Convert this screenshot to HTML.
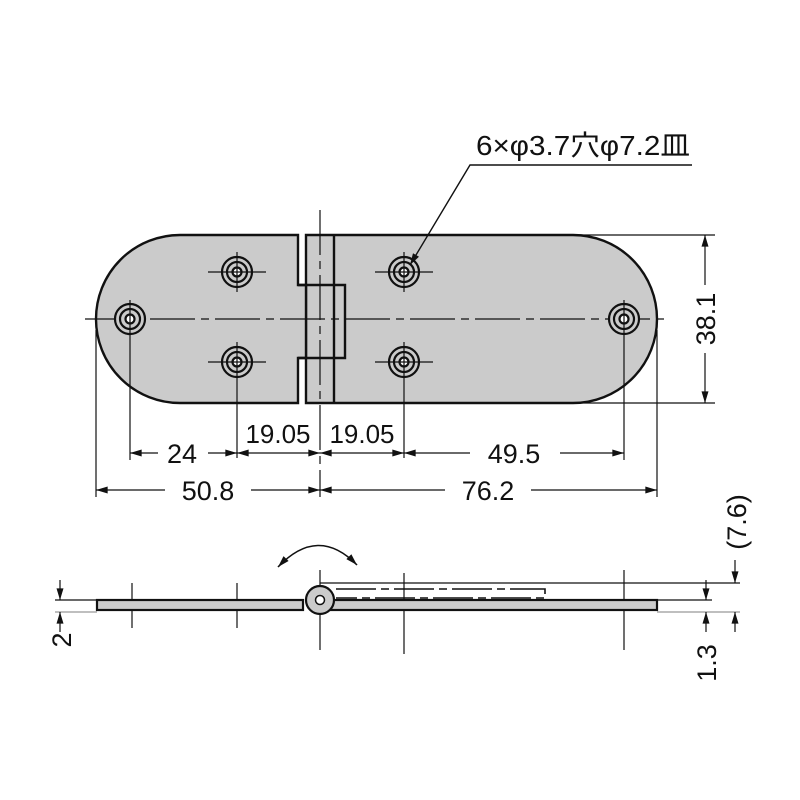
<!DOCTYPE html>
<html><head><meta charset="utf-8"><style>html,body{margin:0;padding:0;background:#fff}svg{display:block}text{font-family:"Liberation Sans","Noto Sans CJK JP",sans-serif;fill:#111}</style></head><body>
<svg width="800" height="800" viewBox="0 0 800 800" xmlns="http://www.w3.org/2000/svg">
<defs>
<marker id="a" viewBox="0 0 10 6" refX="10" refY="3" markerWidth="14" markerHeight="7" markerUnits="userSpaceOnUse" orient="auto-start-reverse"><path d="M0,0L10,3L0,6z" fill="#111"/></marker>
</defs>
<!-- plates -->
<g stroke="#111" stroke-width="2.4" fill="#cbcbcb">
<path d="M306,235 H573 A84,84 0 0 1 573,403 H306 Z"/>
<path d="M298,235 H180 A84,84 0 0 0 180,403 H298 V358 H306 V285 H298 Z"/>
<path d="M298,285 H345 V358 H298" fill="none"/>
<line x1="334" y1="235" x2="334" y2="403"/>
</g>
<!-- center lines -->
<g stroke="#111" stroke-width="1.2">
<line x1="85" y1="319" x2="670" y2="319" stroke-dasharray="45,6,8,6"/>
<line x1="320" y1="210" x2="320" y2="497" stroke-dasharray="45,6,8,6"/>
</g>
<!-- holes -->
<g stroke="#111" stroke-width="2.2" fill="#cbcbcb">
<g transform="translate(130,319)"><circle r="15"/><circle r="10"/><circle r="4.5" fill="#fff"/></g>
<g transform="translate(237,272)"><circle r="15"/><circle r="10"/><circle r="4.5" fill="#fff"/></g>
<g transform="translate(237,362)"><circle r="15"/><circle r="10"/><circle r="4.5" fill="#fff"/></g>
<g transform="translate(404,272)"><circle r="15"/><circle r="10"/><circle r="4.5" fill="#fff"/></g>
<g transform="translate(404,362)"><circle r="15"/><circle r="10"/><circle r="4.5" fill="#fff"/></g>
<g transform="translate(624,319)"><circle r="15"/><circle r="10"/><circle r="4.5" fill="#fff"/></g>
</g>
<g stroke="#111" stroke-width="1.2">
<line x1="208" y1="272" x2="266" y2="272"/><line x1="237" y1="252" x2="237" y2="292"/>
<line x1="208" y1="362" x2="266" y2="362"/><line x1="237" y1="342" x2="237" y2="458"/>
<line x1="375" y1="272" x2="433" y2="272"/><line x1="404" y1="252" x2="404" y2="292"/>
<line x1="375" y1="362" x2="433" y2="362"/><line x1="404" y1="342" x2="404" y2="458"/>
<line x1="130" y1="300" x2="130" y2="460"/><line x1="624" y1="300" x2="624" y2="460"/>
<line x1="96" y1="330" x2="96" y2="497"/><line x1="657" y1="330" x2="657" y2="497"/>
<!-- dims -->
<line x1="130" y1="453" x2="237" y2="453" marker-start="url(#a)" marker-end="url(#a)"/>
<line x1="237" y1="453" x2="320" y2="453" marker-start="url(#a)" marker-end="url(#a)"/>
<line x1="320" y1="453" x2="404" y2="453" marker-start="url(#a)" marker-end="url(#a)"/>
<line x1="404" y1="453" x2="624" y2="453" marker-start="url(#a)" marker-end="url(#a)"/>
<line x1="96" y1="490" x2="320" y2="490" marker-start="url(#a)" marker-end="url(#a)"/>
<line x1="320" y1="490" x2="657" y2="490" marker-start="url(#a)" marker-end="url(#a)"/>
<line x1="573" y1="235" x2="715" y2="235"/><line x1="573" y1="403" x2="715" y2="403"/>
<line x1="705" y1="235" x2="705" y2="403" marker-start="url(#a)" marker-end="url(#a)"/>
<!-- leader -->
<polyline points="692,165 470,165 410,265" fill="none" stroke-width="1.4" marker-end="url(#a)"/>
</g>
<g font-size="27">
<rect x="158" y="438" width="50" height="30" fill="#fff"/><text x="182" y="463" text-anchor="middle">24</text>
<text x="278" y="443" text-anchor="middle" font-size="26">19.05</text>
<text x="362" y="443" text-anchor="middle" font-size="26">19.05</text>
<rect x="470" y="438" width="90" height="30" fill="#fff"/><text x="514" y="463" text-anchor="middle">49.5</text>
<rect x="165" y="475" width="86" height="30" fill="#fff"/><text x="208" y="500" text-anchor="middle">50.8</text>
<rect x="445" y="475" width="86" height="30" fill="#fff"/><text x="488" y="500" text-anchor="middle">76.2</text>
<rect x="690" y="285" width="30" height="68" fill="#fff"/><text transform="translate(715,319) rotate(-90)" text-anchor="middle">38.1</text>
<text x="476" y="155" font-size="28" textLength="214" lengthAdjust="spacingAndGlyphs">6×φ3.7穴φ7.2皿</text>
</g>
<!-- side view -->
<g stroke="#111" stroke-width="1.2">
<line x1="132" y1="583" x2="132" y2="628"/><line x1="237" y1="583" x2="237" y2="628"/>
<line x1="404" y1="573" x2="404" y2="654"/><line x1="624" y1="570" x2="624" y2="650"/>
<line x1="320" y1="570" x2="320" y2="650"/>
<line x1="320" y1="583" x2="740" y2="583"/>
<line x1="55" y1="612" x2="97" y2="612" stroke="#999"/><line x1="55" y1="600" x2="97" y2="600"/>
<line x1="657" y1="612" x2="740" y2="612" stroke="#999"/><line x1="657" y1="600" x2="712" y2="600"/>
<line x1="60" y1="580" x2="60" y2="600" marker-end="url(#a)"/><line x1="60" y1="632" x2="60" y2="612" marker-end="url(#a)"/>
<line x1="706" y1="580" x2="706" y2="600" marker-end="url(#a)"/><line x1="706" y1="632" x2="706" y2="612" marker-end="url(#a)"/>
<line x1="735" y1="560" x2="735" y2="583" marker-end="url(#a)"/><line x1="735" y1="632" x2="735" y2="612" marker-end="url(#a)"/>
</g>
<g stroke="#111" stroke-width="2.2" fill="#cbcbcb">
<rect x="97" y="600" width="206" height="10"/>
<rect x="330" y="600" width="327" height="10"/>
<circle cx="320" cy="600" r="14"/>
<circle cx="320" cy="600" r="4.5" fill="#fff" stroke-width="1.5"/>
</g>
<path d="M336,589 H545 V598 H336" fill="none" stroke="#111" stroke-width="1.6" stroke-dasharray="40,5,8,5"/>
<path d="M278,567 Q318,525 357,565" fill="none" stroke="#111" stroke-width="1.6" marker-start="url(#a)" marker-end="url(#a)"/>
<g font-size="27">
<text transform="translate(71,640) rotate(-90)" text-anchor="middle">2</text>
<text transform="translate(716,663) rotate(-90)" text-anchor="middle">1.3</text>
<text transform="translate(746,522) rotate(-90)" text-anchor="middle">(7.6)</text>
</g>
</svg>
</body></html>
